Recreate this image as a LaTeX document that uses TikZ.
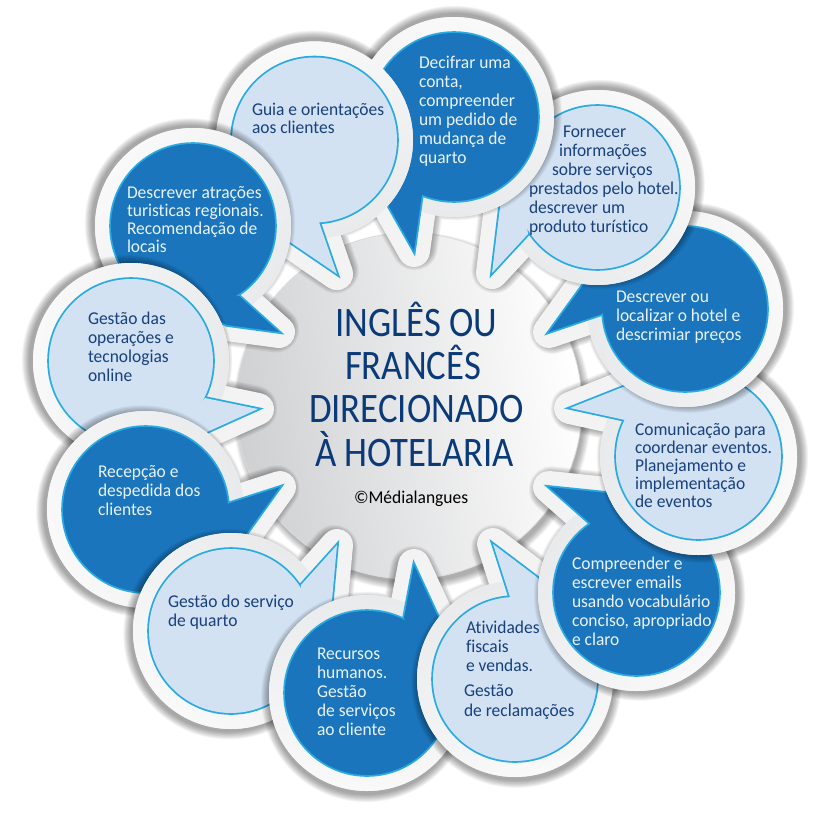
\documentclass[tikz,border=0pt]{standalone}
\usepackage{fontspec}
\setmainfont[Ligatures=NoCommon,FakeStretch=0.97]{Carlito}
\newfontfamily\titlefont[Ligatures=NoCommon,FakeStretch=0.875]{Carlito}
\definecolor{dkfill}{HTML}{1A75BC}
\definecolor{ltfill}{HTML}{D2E2F3}
\definecolor{cyanline}{HTML}{29ABE2}
\definecolor{dktext}{HTML}{17407C}
\definecolor{ltext}{HTML}{EAF2FA}
\definecolor{titlec}{HTML}{0B3A78}
\definecolor{ringa}{HTML}{F9F9FA}
\definecolor{ringb}{HTML}{E9EAEB}
\definecolor{discl}{HTML}{CFD0D2}
\tikzset{
  lab/.style={anchor=base west,inner sep=0pt,outer sep=0pt,font=\fontsize{18}{19}\selectfont},
  ttl/.style={anchor=base west,inner sep=0pt,outer sep=0pt,text=titlec,font=\titlefont\fontsize{42}{43}\selectfont},
}
% cx, cy, r, tail polygon, fill colour
\newcommand{\bubbleface}[5]{%
  \pgfmathsetmacro\ux{#1-409}\pgfmathsetmacro\uy{#2-406}%
  \pgfmathsetmacro\ang{atan2(-\uy,\ux)-90}%
  \draw[ringb!40!ringa,line width=32,line join=round] (#1,#2) circle[radius=#3] #4;
  \shade[top color=ringa,bottom color=ringb,shading angle=\ang] (#1,#2) circle[radius=#3+16];
  \draw[cyanline,line width=3.6] (#1,#2) circle[radius=#3] #4;
  \fill[#5] (#1,#2) circle[radius=#3];
  \fill[#5] #4;
}
\newcommand{\bubble}[5]{%
  \pgfmathsetmacro\ux{#1-409}\pgfmathsetmacro\uy{#2-406}%
  \pgfmathsetmacro\ul{veclen(\ux,\uy)}%
  \pgfmathsetmacro\ox{4*\ux/\ul}\pgfmathsetmacro\oy{4*\uy/\ul}%
  \begin{scope}[shift={(\ox,\oy)}]
    \foreach \e in {0,...,8}
      \draw[black,opacity=.042,line join=round,line width=32+1.8*\e] (#1,#2) circle[radius=#3] #4;
  \end{scope}
  \bubbleface{#1}{#2}{#3}{#4}{#5}
}
% name, x, first baseline, pitch, colour, lines
\newcommand{\lines}[6]{%
  \foreach \t [count=\i from 0] in {#6}
    \node[lab,text=#5] (#1-\i) at (#2,#3+#4*\i) {\t};
}
\begin{document}
\begin{tikzpicture}[x=1pt,y=-1pt]
\useasboundingbox (0,0) rectangle (825,817);
\fill[white] (0,0) rectangle (825,817);
% central disc
\foreach \e in {0,...,9}
  \fill[black,opacity=.035] (412,411) circle[radius=172+\e*.8];
\shade[top color=discl,bottom color=white,shading angle=100,draw=black!14,line width=.8] (409,406) circle[radius=173];
% bubbles, lowest first
\newcommand{\guiadata}{{314.5}{140}{82.5}{(319,222)--(337,274)--(290,242)--(270,205)--cycle}{ltfill}}
\expandafter\bubble\guiadata
\bubble{193}{226}{82}{(239,296)--(279,332)--(227,325)--(180,300)--cycle}{dkfill}
\bubble{131}{361}{82}{(205,398)--(258,409)--(207,432)--(170,440)--cycle}{ltfill}
\bubble{145.5}{509.5}{82.5}{(227,504)--(280,487)--(247,533)--(210,560)--cycle}{dkfill}
\bubble{231}{631}{82}{(301,585)--(337,545)--(332,600)--(300,640)--cycle}{ltfill}
\bubble{367}{693}{82}{(404,618)--(414,565)--(438,617)--(440,680)--cycle}{dkfill}
\bubble{515}{679}{82}{(510,597)--(493,544)--(538,578)--(570,640)--cycle}{ltfill}
\bubble{636.5}{592.5}{82.5}{(591,524)--(549,487)--(607,493)--(640,520)--cycle}{dkfill}
\bubble{698.5}{456.5}{82.5}{(625,420)--(570,408)--(623,387)--(680,380)--cycle}{ltfill}
\bubble{685}{309}{82}{(602,314)--(549,332)--(617,238)--(650,245)--cycle}{dkfill}
\bubble{597.5}{187.5}{81.5}{(528,234)--(492,273)--(500,207)--(512,110)--cycle}{ltfill}
\bubble{454}{117}{84}{(422,194)--(414,251)--(388,205)--(385,150)--cycle}{dkfill}
\begin{scope}
  \clip (300,30) rectangle (420,295);
  \expandafter\bubbleface\guiadata
\end{scope}
% title
\node[ttl] (t1) at (335,336) {INGLÊS OU};
\node[ttl] (t2) at (345,379) {FRANCÊS};
\node[ttl] (t3) at (309,422) {DIRECIONADO};
\node[ttl] (t4) at (315,466) {À HOTELARIA};
\node[lab,text=black] (copy) at (354,503) {©Médialangues};
% labels
\lines{a}{252}{115}{18.5}{dktext}{Guia e orientações,aos clientes}
\lines{b}{419}{68}{19}{ltext}{Decifrar uma,{conta,},compreender,um pedido de,mudança de,quarto}
\lines{c1}{563}{137}{19}{dktext}{Fornecer}
\lines{c2}{559}{156}{19}{dktext}{informações}
\lines{c3}{552}{175}{19}{dktext}{sobre serviços}
\lines{c4}{529}{194}{19}{dktext}{prestados pelo hotel.,descrever um,produto turístico}
\lines{d}{616}{302}{19}{ltext}{Descrever ou,localizar o hotel e,descrimiar preços}
\lines{e}{635}{435}{18}{dktext}{Comunicação para,coordenar eventos.,Planejamento e,implementação,de eventos}
\lines{f}{572}{569}{19}{ltext}{Compreender e,escrever emails,usando vocabulário,{conciso, apropriado},e claro}
\lines{g}{466}{633}{19.3}{dktext}{Atividades,fiscais,e vendas.}
\lines{h}{464}{696}{20}{dktext}{Gestão,de reclamações}
\lines{i}{317}{659}{19}{ltext}{Recursos,humanos.,Gestão,de serviços,ao cliente}
\lines{j}{168}{607}{19}{dktext}{Gestão do serviço,de quarto}
\lines{k}{98}{477}{19}{ltext}{Recepção e,despedida dos,clientes}
\lines{m}{88}{324}{19}{dktext}{Gestão das,operações e,tecnologias,online}
\lines{n}{127}{198}{18}{ltext}{Descrever atrações,turisticas regionais.,Recomendação de,locais}
\end{tikzpicture}
\end{document}
